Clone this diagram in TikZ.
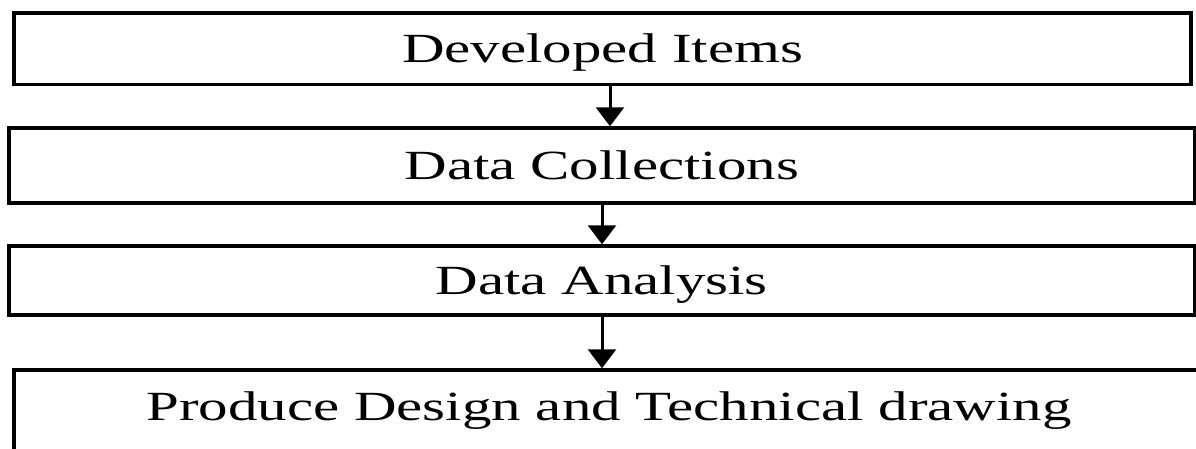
\documentclass[tikz,border=0pt]{standalone}
\usepackage{fontspec}
\setmainfont{Liberation Serif}
\usetikzlibrary{arrows.meta}
\newcommand{\boxtext}[1]{\scalebox{1.42}[1]{\fontsize{41.5}{50}\selectfont #1}}
\tikzset{
  stepbox/.style={draw=black, line width=3.5pt, rectangle, inner sep=0pt,
    text height=27.5pt, text depth=0pt, font=\fontsize{41.5}{50}\selectfont},
  flowarrow/.style={line width=3pt, -{Triangle[width=28pt,length=19pt]}}
}
\begin{document}
\begin{tikzpicture}[x=1pt,y=-1pt]
\useasboundingbox (0,0) rectangle (1196,448);
\clip (0,0) rectangle (1196,448);
\node[stepbox, minimum width=1177pt, minimum height=71.5pt] (b1) at (602.5,48.75) {\boxtext{Developed Items}};
\node[stepbox, minimum width=1185.5pt, minimum height=75pt] (b2) at (601.75,165.5) {\boxtext{Data Collections}};
\node[stepbox, minimum width=1185.5pt, minimum height=69pt] (b3) at (601.75,280.5) {\boxtext{Data Analysis}};
\node[stepbox, minimum width=1190pt, minimum height=100pt, text depth=27.5pt] (b4) at (609,420) {\boxtext{Produce Design and Technical drawing}};
\draw[flowarrow] ([xshift=7.5pt]b1.south) -- ([xshift=7.5pt]b1.south |- b2.north);
\draw[flowarrow] ([xshift=0.25pt]b2.south) -- ([xshift=0.25pt]b2.south |- b3.north);
\draw[flowarrow] ([xshift=0.25pt]b3.south) -- ([xshift=0.25pt]b3.south |- b4.north);
\end{tikzpicture}
\end{document}
